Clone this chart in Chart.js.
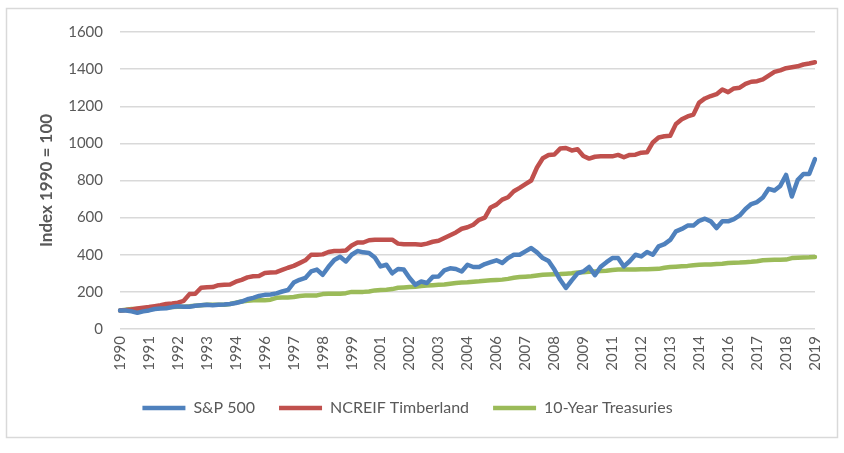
<!DOCTYPE html>
<html>
<head>
<meta charset="utf-8">
<script src="https://cdn.jsdelivr.net/npm/chart.js@4.4.1/dist/chart.umd.min.js"></script>
<style>
  html, body { margin: 0; padding: 0; background: #ffffff; }
  canvas { display: block; }
</style>
</head>
<body>
<canvas id="c" width="844" height="453"></canvas>
<script>
// Tick labels shown every 5th quarterly point
const tickYears = ["1990","1991","1992","1993","1994","1996","1997","1998","1999","2001","2002","2003","2004","2006","2007","2008","2009","2011","2012","2013","2014","2016","2017","2018","2019"];
const labelStep = 5;

// Series values (Index 1990 = 100), 121 points
const sp500 = [100,100,95,87,95,100,108,110,112,118,122,120,120,125,128,130,128,130,132,135,
  140,148,160,168,178,184,186,192,202,210,250,265,275,310,320,292,335,372,389,364,
  400,420,413,410,385,337,346,300,323,320,275,238,256,248,281,283,316,327,323,310,
  346,334,334,350,360,370,356,382,400,400,418,436,413,382,366,320,265,221,262,300,
  310,334,290,335,360,382,382,337,365,400,391,415,400,445,457,480,526,539,557,557,
  583,594,580,544,580,580,592,612,647,673,684,709,755,746,771,830,714,802,835,835,915];

const timberland = [100,102,105,110,114,118,123,128,135,138,142,152,188,190,222,225,226,236,238,240,
  255,265,278,284,286,302,304,306,318,330,340,355,370,400,400,402,415,420,420,423,
  450,466,466,478,481,481,481,481,460,456,456,456,454,460,470,475,490,505,520,540,
  548,562,588,600,655,670,697,710,742,760,780,800,870,920,937,940,972,975,962,968,
  932,918,928,930,930,930,938,925,938,939,950,952,1005,1032,1038,1041,1105,1130,1145,1155,
  1220,1242,1255,1265,1290,1276,1296,1300,1320,1332,1335,1345,1365,1385,1393,1405,1410,1415,1425,1430,1437];

const treasuries = [100,104,108,108,110,110,112,114,116,118,120,120,122,125,128,130,130,130,131,135,
  142,148,152,155,155,155,158,168,170,170,172,178,180,180,181,188,190,190,190,193,
  200,200,200,202,208,210,212,215,222,224,226,228,232,234,236,238,240,244,248,250,
  252,255,257,260,262,264,266,270,276,280,282,284,288,292,294,295,296,298,300,304,
  306,308,310,312,314,318,320,320,320,321,322,322,323,324,330,334,336,338,340,344,
  346,347,348,350,352,356,357,358,360,362,365,370,372,373,373,374,382,384,385,386,388];

const seriesNames = ["S&P 500", "NCREIF Timberland", "10-Year Treasuries"];
const seriesColors = ["#4F81BD", "#C0504D", "#9BBB59"];

const categories = sp500.map((_, i) => (i % labelStep === 0 ? tickYears[i / labelStep] : ""));

const frame = {
  id: "frame",
  beforeDraw(chart) {
    const ctx = chart.ctx;
    ctx.save();
    ctx.fillStyle = "#ffffff";
    ctx.fillRect(0, 0, chart.width, chart.height);
    ctx.strokeStyle = "#d9d9d9";
    ctx.lineWidth = 1.5;
    ctx.strokeRect(6.5, 8.5, 831, 429);
    ctx.restore();
  }
};

const mk = (name, data, color) => ({
  label: name,
  data: data,
  borderColor: color,
  backgroundColor: color,
  borderWidth: 4.5,
  pointRadius: 0,
  pointHoverRadius: 0,
  tension: 0,
  fill: false,
  borderJoinStyle: "round",
  borderCapStyle: "round"
});

new Chart(document.getElementById("c"), {
  type: "line",
  data: {
    labels: categories,
    datasets: [
      mk(seriesNames[0], sp500, seriesColors[0]),
      mk(seriesNames[1], timberland, seriesColors[1]),
      mk(seriesNames[2], treasuries, seriesColors[2])
    ]
  },
  plugins: [frame],
  options: {
    responsive: false,
    animation: false,
    devicePixelRatio: 1,
    layout: { padding: { top: 32, right: 29, bottom: 27, left: 0 } },
    plugins: {
      tooltip: { enabled: false },
      legend: {
        position: "bottom",
        labels: {
          usePointStyle: true,
          pointStyle: "line",
          pointStyleWidth: 43,
          boxHeight: 16,
          padding: 24,
          color: "#595959",
          font: { family: "Lato", size: 16 }
        }
      }
    },
    scales: {
      x: {
        offset: false,
        grid: { display: false, drawTicks: false },
        border: { display: false },
        ticks: {
          autoSkip: false,
          minRotation: 90,
          maxRotation: 90,
          padding: 7,
          color: "#595959",
          font: { family: "Lato", size: 15 }
        },
        afterFit(scale) { scale.height = 47; }
      },
      y: {
        min: 0,
        max: 1600,
        ticks: {
          stepSize: 200,
          padding: 17,
          color: "#595959",
          font: { family: "Lato", size: 15 },
          callback: (v) => String(v)
        },
        grid: { color: "#d9d9d9", lineWidth: 1.5, drawTicks: false },
        border: { display: false },
        title: {
          display: true,
          text: "Index 1990 = 100",
          color: "#595959",
          font: { family: "Lato", size: 17, weight: "bold" },
          padding: { top: 36, bottom: 0 }
        },
        afterFit(scale) { scale.width = 120; }
      }
    }
  }
});
</script>
</body>
</html>
